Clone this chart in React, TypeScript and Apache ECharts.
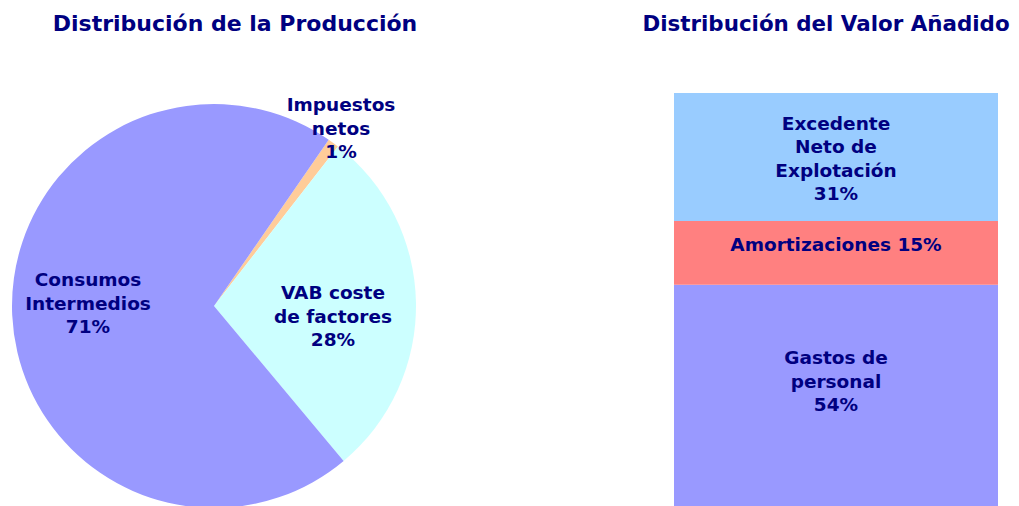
import React, { useEffect, useRef } from "react";
import * as echarts from "echarts";

const pieNames = ["Impuestos\nnetos", "VAB coste\nde factores", "Consumos\nIntermedios"];
const pieValues = [0.9, 28.4, 70.7];
const pieColors = ["#FFCC99", "#CCFFFF", "#9999FF"];
const pieLabelPos = [[341, 128], [333, 316], [88, 303]];

const barNames = ["Gastos de\npersonal", "Amortizaciones", "Excedente\nNeto de\nExplotación"];
const barValues = [53.6, 15.4, 31.0];
const barColors = ["#9999FF", "#FF8080", "#99CCFF"];
const barSeparators = ["\n", " ", "\n"];
const barLabelOffsets = [[0, -14], [0, -8], [0, 1.5]];
const barCategories = ["Valor Añadido"];

const TEXT = "#000080";
const FONT = "DejaVu Sans, Verdana, sans-serif";

export default function App() {
  const ref = useRef<HTMLDivElement>(null);
  useEffect(() => {
    const chart = echarts.init(ref.current!, undefined, { renderer: "svg" });
    const option: any = {
      animation: false,
      backgroundColor: "#ffffff",
      title: [
        {
          text: "Distribución de la Producción",
          left: 230,
          top: 18,
          textAlign: "center",
          textVerticalAlign: "middle",
          textStyle: { color: TEXT, fontFamily: FONT, fontWeight: "bold", fontSize: 22 },
        },
        {
          text: "Distribución del Valor Añadido",
          left: 821,
          top: 18,
          textAlign: "center",
          textVerticalAlign: "middle",
          textStyle: { color: TEXT, fontFamily: FONT, fontWeight: "bold", fontSize: 21.4 },
        },
      ],
      grid: { left: 674, right: 21, top: 93, bottom: 0, containLabel: false },
      xAxis: { type: "category", data: barCategories, show: false },
      yAxis: { type: "value", min: 0, max: 100, show: false },
      series: [
        {
          type: "pie",
          center: [214, 306],
          radius: 202,
          startAngle: 55.4,
          clockwise: true,
          silent: true,
          data: pieNames.map((n, i) => ({ name: n, value: pieValues[i], itemStyle: { color: pieColors[i] } })),
          label: {
            show: true,
            position: "inside",
            color: TEXT,
            fontFamily: FONT,
            fontWeight: "bold",
            fontSize: 18.5,
            lineHeight: 23.5,
            align: "center",
            formatter: (p: any) => p.name + "\n" + Math.round(p.value) + "%",
          },
          labelLine: { show: false },
          labelLayout: (p: any) => ({
            x: pieLabelPos[p.dataIndex][0],
            y: pieLabelPos[p.dataIndex][1],
            align: "center",
            verticalAlign: "middle",
          }),
        },
        ...barNames.map((n, i) => ({
          type: "bar",
          name: n,
          stack: "va",
          barWidth: "100%",
          silent: true,
          itemStyle: { color: barColors[i] },
          data: [barValues[i]],
          label: {
            show: true,
            position: "inside",
            offset: barLabelOffsets[i],
            color: TEXT,
            fontFamily: FONT,
            fontWeight: "bold",
            fontSize: 18.5,
            lineHeight: 23.5,
            align: "center",
            formatter: (p: any) => n + barSeparators[i] + Math.round(p.value) + "%",
          },
        })),
      ],
    };
    chart.setOption(option);
    return () => chart.dispose();
  }, []);
  return (
    <div
      ref={ref}
      style={{ position: "fixed", left: 0, top: 0, width: 1019, height: 506, background: "#fff" }}
    />
  );
}
